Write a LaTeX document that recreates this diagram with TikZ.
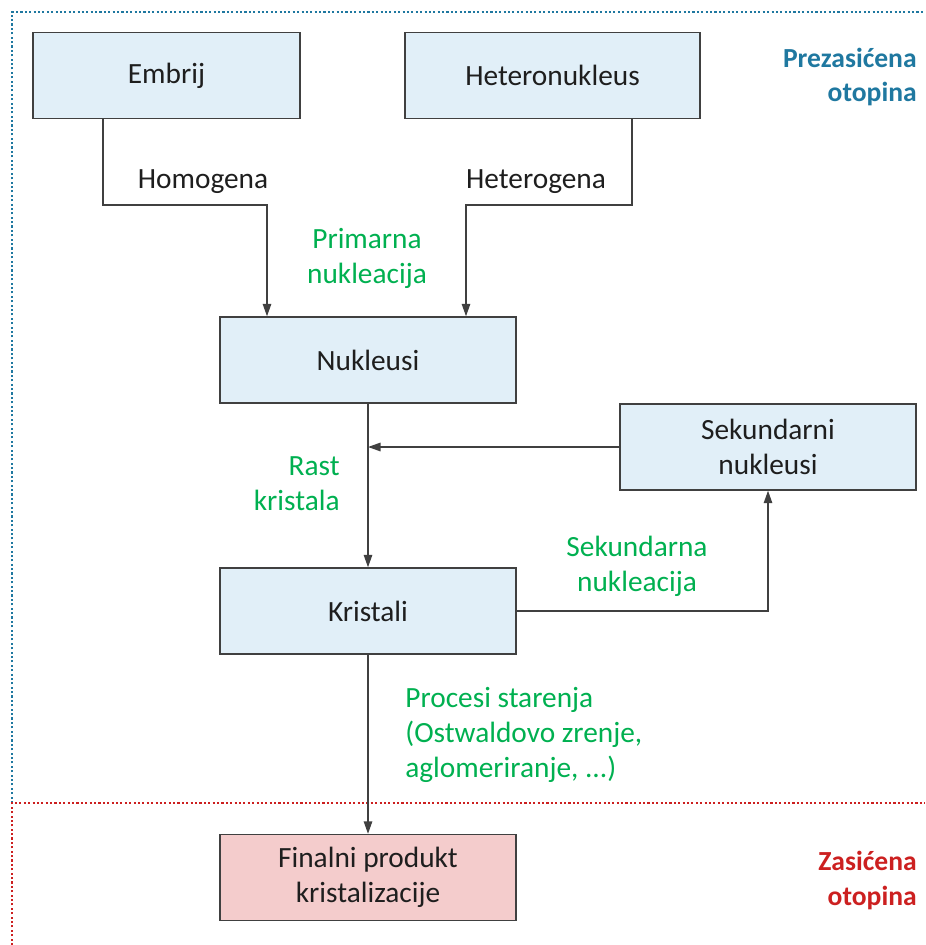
\documentclass[tikz,border=0pt]{standalone}
\usepackage{fontspec}
\setmainfont{Carlito}
\usetikzlibrary{arrows.meta,positioning}

\definecolor{boxblue}{RGB}{225,239,248}
\definecolor{boxpink}{RGB}{244,204,204}
\definecolor{linegray}{RGB}{64,64,64}
\definecolor{textgray}{RGB}{30,30,30}
\definecolor{labelgreen}{RGB}{0,176,80}
\definecolor{zoneblue}{RGB}{31,120,160}
\definecolor{zonered}{RGB}{204,32,32}

\begin{document}
\begin{tikzpicture}[
    x=0.02cm, y=-0.02cm,
    font=\fontsize{16.7}{19.9}\selectfont, text=textgray,
    stage/.style={rectangle, draw=linegray, line width=0.8pt, fill=boxblue, minimum width=5.92cm, minimum height=1.72cm, align=center},
    flow/.style={-{Triangle[length=0.25cm, width=0.17cm]}, draw=linegray, line width=0.8pt},
    note/.style={align=center, inner sep=0pt},
    process/.style={note, text=labelgreen},
    zone/.style={align=right, inner sep=0pt, font=\fontsize{15.7}{19.9}\selectfont\bfseries}
]
\useasboundingbox (0,0) rectangle (925,945);

% Solution zones
\draw[zoneblue, line width=1.4pt, dash pattern=on 1.2pt off 1.3pt] (12,803) -- (12,12) -- (925,12);
\draw[zonered, line width=1.4pt, dash pattern=on 1.2pt off 1.3pt] (12,945) -- (12,803) -- (925,803);
\node[zone, text=zoneblue, anchor=east] (prezasicena) at (917,77) {Prezasićena\\otopina};
\node[zone, text=zonered, anchor=east] (zasicena) at (917,880) {Zasićena\\otopina};

% Stages
\node[stage, minimum width=5.34cm] (embrij) at (166.5,75.5) {Embrij};
\node[stage, minimum width=5.9cm] (heteronukleus) at (552.5,75.5) {Heteronukleus};
\node[stage] (nukleusi) at (368,360) {Nukleusi};
\node[stage] (sekundarni) at (768,447) {Sekundarni\\nukleusi};
\node[stage] (kristali) at (368,611) {Kristali};
\node[stage, fill=boxpink] (finalni) at (368,877.5) {Finalni produkt\\kristalizacije};

% Primary nucleation
\coordinate (hom-a) at (103,205);
\coordinate (hom-b) at (267,205);
\coordinate (het-a) at (632,205);
\coordinate (het-b) at (466,205);
\draw[flow] (embrij.south -| hom-a) -- (hom-a) -- (hom-b) -- (nukleusi.north -| hom-b);
\draw[flow] (heteronukleus.south -| het-a) -- (het-a) -- (het-b) -- (nukleusi.north -| het-b);
\node[note] (homogena) at (203,182) {Homogena};
\node[note] (heterogena) at (536,182) {Heterogena};
\node[process] (primarna) at (367,258) {Primarna\\nukleacija};

% Growth and secondary nucleation
\draw[flow] (nukleusi) -- (kristali);
\draw[flow] (sekundarni.west) -- (sekundarni.west -| nukleusi.south);
\draw[flow] (kristali.east) -| (sekundarni.south);
\node[process, align=right, anchor=east] (rast) at (340,484) {Rast\\kristala};
\node[process] (sekundarna) at (637,566) {Sekundarna\\nukleacija};

% Ageing
\draw[flow] (kristali) -- (finalni);
\node[process, align=left, anchor=west] (starenje) at (405,735) {Procesi starenja\\(Ostwaldovo zrenje,\\aglomeriranje, ...)};

\end{tikzpicture}
\end{document}
